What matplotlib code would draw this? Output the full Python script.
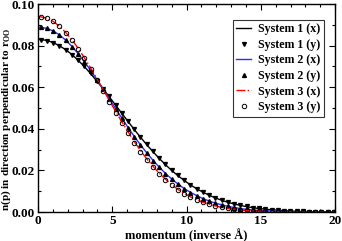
import matplotlib
matplotlib.use("Agg")
import matplotlib.pyplot as plt
from matplotlib.ticker import MultipleLocator

plt.rcParams['font.family'] = ['Liberation Serif', 'DejaVu Serif']
plt.rcParams['font.weight'] = 'bold'
plt.rcParams['mathtext.fontset'] = 'custom'
plt.rcParams['mathtext.bf'] = 'Liberation Serif:bold'
plt.rcParams['mathtext.rm'] = 'Liberation Serif:bold'

# momentum grid (inverse Angstrom)
p = [0.18, 0.60, 1.02, 1.44, 1.86, 2.28, 2.70, 3.12, 3.54, 3.96, 4.38, 4.80,
     5.22, 5.64, 6.06, 6.48, 6.90, 7.32, 7.74, 8.16, 8.58, 9.00, 9.42, 9.84,
     10.26, 10.68, 11.10, 11.52, 11.94, 12.36, 12.78, 13.20, 13.62, 14.04, 14.46, 14.88,
     15.30, 15.72, 16.14, 16.56, 16.98, 17.40, 17.82, 18.24, 18.66, 19.08, 19.50, 19.92]

sys1_x = [0.0830, 0.0825, 0.0815, 0.0800, 0.0781, 0.0758, 0.0730, 0.0700, 0.0666, 0.0630, 0.0593, 0.0554,
          0.0515, 0.0475, 0.0436, 0.0397, 0.0360, 0.0324, 0.0290, 0.0258, 0.0228, 0.0200, 0.0175, 0.0152,
          0.0131, 0.0112, 0.0096, 0.0081, 0.0068, 0.0057, 0.0047, 0.0039, 0.0032, 0.0026, 0.0021, 0.0017,
          0.0014, 0.0011, 0.0009, 0.0007, 0.0005, 0.0004, 0.0003, 0.0002, 0.0002, 0.0001, 0.0001, 0.0001]
sys1_y = [0.0829, 0.0824, 0.0814, 0.0800, 0.0780, 0.0757, 0.0731, 0.0701, 0.0667, 0.0631, 0.0594, 0.0556,
          0.0517, 0.0477, 0.0438, 0.0399, 0.0362, 0.0326, 0.0292, 0.0260, 0.0230, 0.0202, 0.0176, 0.0153,
          0.0132, 0.0113, 0.0096, 0.0082, 0.0069, 0.0058, 0.0048, 0.0040, 0.0033, 0.0027, 0.0022, 0.0018,
          0.0014, 0.0011, 0.0009, 0.0007, 0.0005, 0.0004, 0.0003, 0.0002, 0.0002, 0.0001, 0.0001, 0.0001]
sys2_x = [0.0889, 0.0883, 0.0871, 0.0852, 0.0827, 0.0797, 0.0762, 0.0724, 0.0682, 0.0638, 0.0592, 0.0545,
          0.0498, 0.0452, 0.0407, 0.0364, 0.0323, 0.0285, 0.0249, 0.0216, 0.0186, 0.0159, 0.0135, 0.0113,
          0.0095, 0.0079, 0.0065, 0.0053, 0.0043, 0.0035, 0.0028, 0.0022, 0.0017, 0.0013, 0.0010, 0.0008,
          0.0006, 0.0005, 0.0004, 0.0003, 0.0002, 0.0001, 0.0001, 0.0001, 0.0001, 0.0000, 0.0000, 0.0000]
sys2_y = [0.0890, 0.0884, 0.0870, 0.0851, 0.0826, 0.0796, 0.0761, 0.0722, 0.0680, 0.0636, 0.0590, 0.0543,
          0.0496, 0.0450, 0.0405, 0.0362, 0.0321, 0.0283, 0.0248, 0.0215, 0.0185, 0.0158, 0.0134, 0.0113,
          0.0094, 0.0078, 0.0064, 0.0053, 0.0043, 0.0034, 0.0027, 0.0022, 0.0017, 0.0013, 0.0010, 0.0008,
          0.0006, 0.0005, 0.0003, 0.0003, 0.0002, 0.0001, 0.0001, 0.0001, 0.0000, 0.0000, 0.0000, 0.0000]
sys3_x = [0.0939, 0.0932, 0.0917, 0.0894, 0.0864, 0.0829, 0.0788, 0.0742, 0.0694, 0.0642, 0.0590, 0.0537,
          0.0485, 0.0434, 0.0386, 0.0339, 0.0296, 0.0256, 0.0220, 0.0187, 0.0158, 0.0132, 0.0109, 0.0090,
          0.0073, 0.0059, 0.0047, 0.0038, 0.0030, 0.0023, 0.0018, 0.0014, 0.0010, 0.0008, 0.0006, 0.0004,
          0.0003, 0.0002, 0.0002, 0.0001, 0.0001, 0.0001, 0.0000, 0.0000, 0.0000, 0.0000, 0.0000, 0.0000]
sys3_y = [0.0940, 0.0934, 0.0918, 0.0893, 0.0862, 0.0826, 0.0785, 0.0739, 0.0690, 0.0637, 0.0584, 0.0530,
          0.0478, 0.0427, 0.0379, 0.0333, 0.0291, 0.0252, 0.0216, 0.0184, 0.0156, 0.0130, 0.0108, 0.0089,
          0.0072, 0.0058, 0.0047, 0.0037, 0.0029, 0.0023, 0.0018, 0.0014, 0.0010, 0.0008, 0.0006, 0.0004,
          0.0003, 0.0002, 0.0002, 0.0001, 0.0001, 0.0001, 0.0000, 0.0000, 0.0000, 0.0000, 0.0000, 0.0000]

fig = plt.figure(figsize=(3.42, 2.41), dpi=100)
ax = fig.add_axes([0.111, 0.120, 0.869, 0.863])

ax.plot([0] + p, [sys1_x[0]] + sys1_x, '-', color='black', lw=1.0, label='System 1 (x)')
ax.plot(p, sys1_y, 'v', color='black', ms=2.8, ls='none', label='System 1 (y)')
ax.plot([0] + p, [sys2_x[0]] + sys2_x, '-', color='#2b2bff', lw=1.0, label='System 2 (x)')
ax.plot(p, sys2_y, '^', color='black', ms=2.8, ls='none', label='System 2 (y)')
ax.plot([0] + p, [sys3_x[0]] + sys3_x, '-.', color='red', lw=1.0, label='System 3 (x)')
ax.plot(p, sys3_y, 'o', mfc='none', mec='black', mew=0.7, ms=3.2, ls='none', label='System 3 (y)')

ax.set_xlim(0, 20)
ax.set_ylim(0, 0.10)
ax.xaxis.set_major_locator(MultipleLocator(5))
ax.xaxis.set_minor_locator(MultipleLocator(1))
ax.yaxis.set_major_locator(MultipleLocator(0.02))
ax.yaxis.set_minor_locator(MultipleLocator(0.01))
ax.yaxis.set_major_formatter(plt.FormatStrFormatter('%.2f'))
ax.tick_params(which='both', direction='in', top=True, right=True, labelsize=9.5, width=0.8, pad=2)
ax.tick_params(which='major', length=4)
ax.tick_params(which='minor', length=2)
for s in ax.spines.values():
    s.set_linewidth(1.0)

ax.set_xlabel('momentum (inverse Å)', fontsize=9, fontweight='bold', labelpad=1)
ax.set_ylabel('n(p) in direction perpendicular to r$_{\\mathbf{OO}}$', fontsize=8.1,
              fontweight='bold')
ax.yaxis.set_label_coords(-0.083, 0.445)

leg = ax.legend(loc='upper right', bbox_to_anchor=(0.962, 0.925), fontsize=8.6, frameon=True,
                fancybox=False, edgecolor='black', handlelength=1.2, handletextpad=0.6,
                borderpad=0.3, labelspacing=0.3, borderaxespad=0.0)
leg.get_frame().set_linewidth(0.8)

fig.savefig('out.png', dpi=100, facecolor='white')
